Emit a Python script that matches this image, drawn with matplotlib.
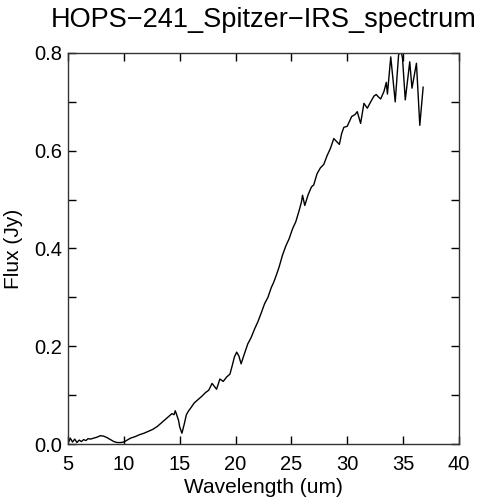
import matplotlib
matplotlib.use("Agg")
import matplotlib.pyplot as plt
from matplotlib.ticker import MultipleLocator

plt.rcParams["font.family"] = ["Liberation Sans", "DejaVu Sans"]

# spectrum
wavelength = [5.1, 5.2, 5.4, 5.6, 5.8, 6.0, 6.2, 6.4, 6.6, 6.8, 7.0, 7.3, 7.6, 7.9,
              8.2, 8.5, 8.8, 9.1, 9.4, 9.7, 10.0, 10.3, 10.6, 11.0, 11.4, 11.8,
              12.2, 12.6, 13.0, 13.4, 13.8, 14.1, 14.3, 14.5, 14.6, 14.7, 14.8,
              14.9, 15.0, 15.2, 15.4, 15.6, 15.8, 16.0, 16.3, 16.6, 17.0, 17.3,
              17.6, 17.9, 18.1, 18.3, 18.6, 18.9, 19.2, 19.5, 19.7, 19.9, 20.1,
              20.3, 20.5, 20.8, 21.1, 21.4, 21.7, 22.0, 22.3, 22.6, 22.9, 23.2,
              23.4, 23.6, 23.9, 24.2, 24.5, 24.8, 25.1, 25.4, 25.7, 25.9, 26.0,
              26.2, 26.5, 26.8, 27.0, 27.3, 27.6, 27.9, 28.2, 28.5, 28.8, 29.0,
              29.3, 29.5, 29.7, 30.0, 30.2, 30.4, 30.7, 30.9, 31.2, 31.5, 31.8,
              32.1, 32.4, 32.6, 32.8, 33.0, 33.3, 33.5, 33.6, 33.9, 34.3, 34.6,
              34.8, 34.95, 35.2, 35.6, 35.8, 36.2, 36.5, 36.8]
flux = [0.006, 0.012, 0.004, 0.010, 0.003, 0.008, 0.005, 0.009, 0.007, 0.011,
        0.010, 0.012, 0.014, 0.017, 0.016, 0.013, 0.009, 0.005, 0.003, 0.003,
        0.004, 0.008, 0.012, 0.015, 0.019, 0.022, 0.026, 0.030, 0.036, 0.044,
        0.052, 0.058, 0.062, 0.060, 0.068, 0.062, 0.055, 0.048, 0.035, 0.022,
        0.040, 0.060, 0.068, 0.074, 0.084, 0.090, 0.098, 0.105, 0.110, 0.124,
        0.118, 0.112, 0.133, 0.128, 0.137, 0.143, 0.160, 0.178, 0.188, 0.180,
        0.164, 0.185, 0.205, 0.218, 0.235, 0.250, 0.268, 0.287, 0.300, 0.320,
        0.330, 0.342, 0.362, 0.386, 0.405, 0.420, 0.440, 0.455, 0.478, 0.495,
        0.509, 0.488, 0.510, 0.526, 0.530, 0.553, 0.565, 0.572, 0.590, 0.605,
        0.625, 0.620, 0.613, 0.635, 0.648, 0.650, 0.660, 0.670, 0.674, 0.680,
        0.656, 0.697, 0.687, 0.700, 0.712, 0.715, 0.710, 0.706, 0.722, 0.740,
        0.716, 0.792, 0.700, 0.796, 0.805, 0.790, 0.704, 0.782, 0.728, 0.779,
        0.652, 0.730]

fig = plt.figure(figsize=(4.79, 5.0), dpi=100)
ax = fig.add_axes([0.142, 0.112, 0.816, 0.782])
ax.plot(wavelength, flux, color="black", lw=1.0)

ax.set_xlim(5, 40)
ax.set_ylim(0, 0.8)
ax.xaxis.set_major_locator(MultipleLocator(5))
ax.yaxis.set_major_locator(MultipleLocator(0.2))
ax.yaxis.set_minor_locator(MultipleLocator(0.1))
ax.yaxis.set_major_formatter(plt.FormatStrFormatter("%.1f"))
ax.tick_params(which="both", direction="in", top=True, right=True,
               length=6, width=1, labelsize=14.5)
ax.tick_params(axis="x", pad=8)
ax.tick_params(axis="y", pad=4)
for s in ax.spines.values():
    s.set_linewidth(1)
    s.set_color("#333333")

ax.set_xlabel("Wavelength (um)", fontsize=15, labelpad=3)
ax.set_ylabel("Flux (Jy)", fontsize=15, labelpad=8)
ax.set_title("HOPS\u2212241_Spitzer\u2212IRS_spectrum", fontsize=19.5, pad=19)

fig.savefig("out.png", dpi=100)
